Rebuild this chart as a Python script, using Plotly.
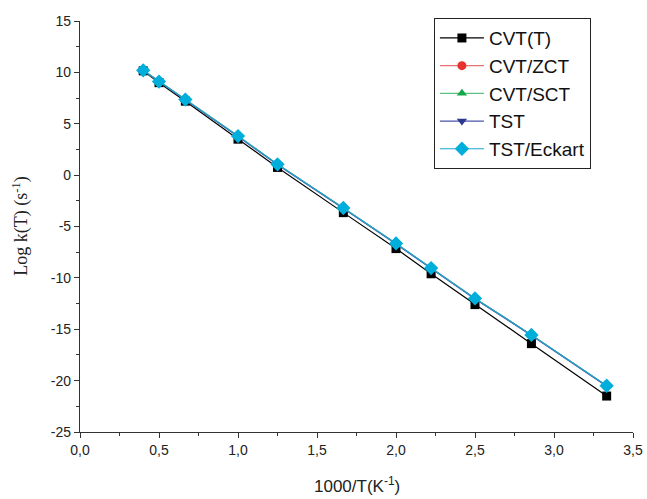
import plotly.graph_objects as go

x_vals = [0.4, 0.5, 0.6667, 1.0, 1.25, 1.6667, 2.0, 2.2222, 2.5, 2.8571, 3.3333]

cvt_t = [10.15, 9.0, 7.2, 3.5, 0.75, -3.65, -7.15, -9.6, -12.6, -16.4, -21.5]
cvt_zct = [10.2, 9.1, 7.35, 3.8, 1.05, -3.2, -6.65, -9.05, -12.0, -15.55, -20.5]
cvt_sct = [10.2, 9.1, 7.35, 3.8, 1.05, -3.2, -6.65, -9.05, -12.0, -15.55, -20.5]
tst = [10.17, 9.07, 7.3, 3.75, 1.0, -3.25, -6.7, -9.1, -12.05, -15.6, -20.55]
tst_eckart = [10.2, 9.1, 7.35, 3.8, 1.05, -3.2, -6.65, -9.05, -12.0, -15.55, -20.5]

x_tickvals = [0, 0.5, 1.0, 1.5, 2.0, 2.5, 3.0, 3.5]
x_ticktext = ["0,0", "0,5", "1,0", "1,5", "2,0", "2,5", "3,0", "3,5"]
y_tickvals = [15, 10, 5, 0, -5, -10, -15, -20, -25]
y_ticktext = ["15", "10", "5", "0", "-5", "-10", "-15", "-20", "-25"]

series = [
    ("CVT(T)", cvt_t, "#000000", "#000000", "square"),
    ("CVT/ZCT", cvt_zct, "#E8322E", "#E87070", "circle"),
    ("CVT/SCT", cvt_sct, "#14A84A", "#5CC080", "triangle-up"),
    ("TST", tst, "#2B3990", "#4A55A8", "triangle-down"),
    ("TST/Eckart", tst_eckart, "#00AEDB", "#1AA6CF", "diamond"),
]

fig = go.Figure()
for name, ys, mcol, lcol, sym in series:
    fig.add_trace(go.Scatter(
        x=x_vals, y=ys, name=name, mode="lines+markers",
        line=dict(color=lcol, width=1.2),
        marker=dict(symbol=sym, color=mcol, size=9 if sym != "diamond" else 11,
                    line=dict(width=0)),
    ))

axis_common = dict(
    showline=True, linecolor="#333333", linewidth=1.2,
    ticks="outside", ticklen=5, tickwidth=1, tickcolor="#333333",
    showgrid=False, zeroline=False, mirror=False, automargin=False,
    tickfont=dict(family="Liberation Sans, Arial", size=14, color="#222"),
)

fig.update_xaxes(
    range=[0, 3.5], tickmode="array", tickvals=x_tickvals, ticktext=x_ticktext,
    minor=dict(ticks="outside", ticklen=3, tickmode="linear", tick0=0, dtick=0.25,
               tickcolor="#333333"),
    **axis_common,
)
fig.update_yaxes(
    range=[-25, 15], tickmode="array", tickvals=y_tickvals, ticktext=y_ticktext,
    minor=dict(ticks="outside", ticklen=3, tickmode="linear", tick0=0, dtick=2.5,
               tickcolor="#333333"),
    **axis_common,
)

fig.add_annotation(
    text="1000/T(K<sup>-1</sup>)", xref="paper", yref="paper",
    x=0.5, y=-0.13, xanchor="center", yanchor="middle", showarrow=False,
    font=dict(family="Liberation Sans, Arial", size=17, color="#222"),
)
fig.add_annotation(
    text="Log k(T) (s<sup>-1</sup>)", xref="paper", yref="paper",
    x=-0.108, y=0.5, xanchor="center", yanchor="middle", showarrow=False,
    textangle=-90,
    font=dict(family="Liberation Serif, Times New Roman", size=18, color="#222"),
)

fig.update_layout(
    width=647, height=499,
    margin=dict(l=80, r=14, t=21, b=67),
    plot_bgcolor="white", paper_bgcolor="white",
    showlegend=True,
    legend=dict(
        x=0.64, y=1.007, xanchor="left", yanchor="top",
        bordercolor="#222", borderwidth=1, bgcolor="white",
        font=dict(family="Liberation Sans, Arial", size=19, color="#111"),
        tracegroupgap=0, itemwidth=44,
    ),
)

fig.write_html("out.html", config={"displayModeBar": False},
               post_script="document.body.style.margin='0';")
